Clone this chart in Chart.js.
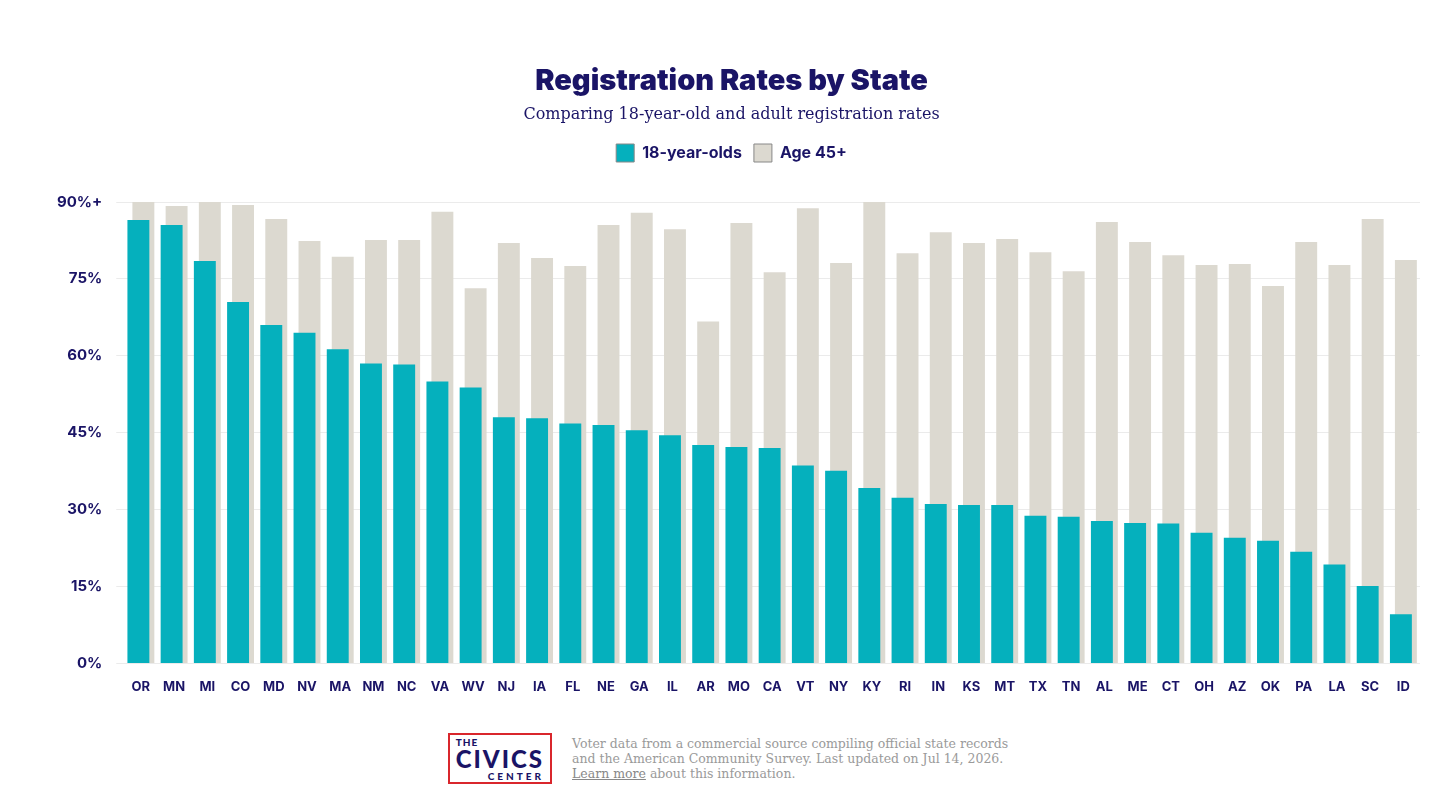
<!DOCTYPE html>
<html>
<head>
<meta charset="utf-8">
<script src="https://cdn.jsdelivr.net/npm/chart.js@4"></script>
<style>
  body { margin: 0; background: #fff; font-family: Lato, sans-serif; }
  #wrap { position: relative; width: 1456px; height: 715px; }
  #footer { display: flex; justify-content: center; align-items: center; gap: 20px; margin-top: 18px; }
  .logo { border: 2px solid #d9262c; padding: 2px 6px 1px; color: #1a1466; font-family: Lato, sans-serif; font-weight: 900; line-height: 1; }
  .logo .t { font-size: 10px; letter-spacing: 1px; }
  .logo .c { font-size: 24px; letter-spacing: 2px; }
  .logo .s { font-size: 10px; letter-spacing: 3px; text-align: right; }
  .note { font-family: "DejaVu Serif", serif; font-size: 12.5px; color: #9a9a9a; line-height: 1.2; }
  .note u { color: #888; }
</style>
</head>
<body>
<div id="wrap"><canvas id="chart"></canvas></div>
<div id="footer">
  <div class="logo"><div class="t">THE</div><div class="c">CIVICS</div><div class="s">CENTER</div></div>
  <div class="note">Voter data from a commercial source compiling official state records<br>and the American Community Survey. Last updated on Jul 14, 2026.<br><u>Learn more</u> about this information.</div>
</div>
<script>
const STATES = ['OR','MN','MI','CO','MD','NV','MA','NM','NC','VA','WV','NJ','IA','FL','NE','GA','IL','AR','MO','CA','VT','NY','KY','RI','IN','KS','MT','TX','TN','AL','ME','CT','OH','AZ','OK','PA','LA','SC','ID'];
const youth = [86.5,85.5,78.5,70.5,66,64.5,61.3,58.5,58.3,55,53.8,48,47.8,46.8,46.5,45.5,44.5,42.6,42.2,42,38.6,37.6,34.2,32.3,31.1,30.9,30.9,28.8,28.6,27.8,27.4,27.3,25.5,24.5,23.9,21.8,19.3,15.1,9.6];
const older = [90,89.2,90,89.4,86.7,82.4,79.3,82.6,82.6,88.1,73.2,82,79.1,77.5,85.5,87.9,84.7,66.7,85.9,76.3,88.8,78.1,90,80,84.1,82,82.8,80.2,76.5,86.1,82.2,79.6,77.7,77.9,73.6,82.2,77.7,86.7,78.7];
const navy = '#1a1466';

// push the plot down below the legend
const legendGap = {
    id: 'legendGap',
    beforeInit(chart) {
        const fit = chart.legend.fit;
        chart.legend.fit = function () { fit.bind(chart.legend)(); this.height += 30; };
    }
};

const ctx = document.getElementById('chart').getContext('2d');
new Chart(ctx, {
    type: 'bar',
    data: {
        labels: STATES,
        datasets: [{
            label: '18-year-olds',
            data: youth,
            backgroundColor: '#05b0bd',
            borderWidth: 0,
            categoryPercentage: 0.3,
            barPercentage: 4.4
        }, {
            label: 'Age 45+',
            data: older,
            backgroundColor: '#dcd9d0',
            borderColor: '#b5b1a6',
            borderWidth: 0,
            categoryPercentage: 0.3,
            barPercentage: 4.4
        }]
    },
    options: {
        responsive: true,
        maintainAspectRatio: false,
        animation: false,
        layout: { padding: { left: 43, right: 36, top: 64, bottom: 12 } },
        scales: {
            x: {
                grid: { display: false },
                border: { display: false },
                ticks: { color: navy, font: { family: 'Inter', weight: 'bold', size: 13 }, padding: 8 }
            },
            y: {
                min: 0, max: 90,
                grid: { color: '#ebebeb' },
                border: { display: false },
                ticks: {
                    stepSize: 15,
                    color: navy,
                    padding: 14,
                    font: { family: 'Inter', weight: 'bold', size: 15 },
                    callback: v => v === 90 ? '90%+' : v + '%'
                }
            }
        },
        plugins: {
            title: {
                display: true,
                text: 'Registration Rates by State',
                color: navy,
                font: { family: 'Inter', weight: '900', size: 29 },
                padding: { top: 0, bottom: 6 }
            },
            subtitle: {
                display: true,
                text: 'Comparing 18-year-old and adult registration rates',
                color: navy,
                font: { family: 'DejaVu Serif', size: 16 },
                padding: { bottom: 8 }
            },
            legend: {
                display: true,
                labels: {
                    color: navy,
                    boxWidth: 18, boxHeight: 18,
                    font: { family: 'Inter', weight: 'bold', size: 16 },
                    padding: 12,
                    generateLabels: chart => chart.data.datasets.map((d, i) => ({
                        text: d.label, fillStyle: d.backgroundColor, strokeStyle: '#888',
                        lineWidth: 1, fontColor: navy, datasetIndex: i
                    }))
                }
            },
            tooltip: { enabled: false }
        }
    },
    plugins: [legendGap]
});
</script>
</body>
</html>
